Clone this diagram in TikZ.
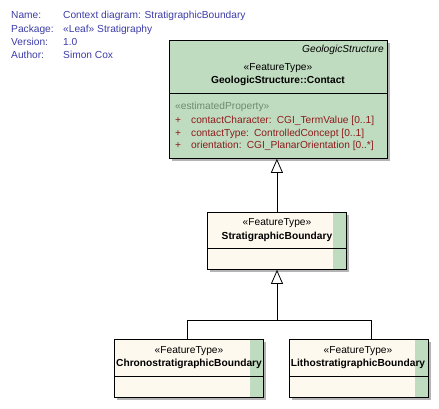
\documentclass[tikz,border=0pt]{standalone}
\usepackage{fontspec}
\setmainfont{Liberation Sans}
\usepackage{xcolor}
\usetikzlibrary{positioning,arrows.meta,shadows,calc}
\definecolor{umlgreen}{HTML}{C0DCC0}
\definecolor{umlcream}{HTML}{FEF9EE}
\definecolor{umlshadow}{HTML}{B4B4B4}
\definecolor{notenavy}{HTML}{3C3CA8}
\definecolor{attrred}{HTML}{8C1C1C}
\definecolor{stereogrey}{HTML}{6F8A6F}
\newcommand{\umlsize}{\fontsize{10.2}{12}\selectfont}

\begin{document}
\begin{tikzpicture}[x=1pt,y=-1pt,
  cls/.style={draw=black,line width=0.8pt,fill=#1,anchor=north west,inner sep=0pt,
              drop shadow={shadow xshift=3pt,shadow yshift=-3pt,fill=umlshadow,opacity=1}},
  stripcls/.style={cls=umlcream,
              path picture={\fill[umlgreen] ([xshift=-13pt]path picture bounding box.north east)
                            rectangle (path picture bounding box.south east);}},
  txt/.style={inner sep=0pt,anchor=mid,font=\umlsize},
  txtb/.style={txt,font=\umlsize\bfseries},
  note/.style={txt,anchor=mid west,text=notenavy},
  attr/.style={txt,anchor=mid west,text=attrred},
  sep/.style={black,line width=0.8pt},
  gen/.style={-{Triangle[open,length=14pt,width=12pt]},black,line width=0.8pt}]
\useasboundingbox (0,0) rectangle (439,408);

\node[note] (namek) at (11,16) {Name:};
\node[note] (namev) at (63,16) {Context diagram: StratigraphicBoundary};
\node[note] (pkgk) at (11,30) {Package:};
\node[note] (pkgv) at (63,30) {«Leaf» Stratigraphy};
\node[note] (verk) at (11,43) {Version:};
\node[note] (verv) at (63,43) {1.0};
\node[note] (autk) at (11,56) {Author:};
\node[note] (autv) at (63,56) {Simon Cox};

\node[cls=umlgreen,minimum width=218pt,minimum height=118pt] (contact) at (169,40) {};
\draw[sep] ($(contact.north west)+(0,53)$) -- ($(contact.north east)+(0,53)$);
\node[txt,anchor=mid east,font=\umlsize\itshape] (contactpkg) at (384,50) {GeologicStructure};
\node[txt] (contactst) at (278,68) {«FeatureType»};
\node[txtb] (contactname) at (278,81) {GeologicStructure::Contact};
\node[txt,anchor=mid west,text=stereogrey] (attrst) at (175,107) {«estimatedProperty»};
\node[attr] (plusa) at (175,121) {+};
\node[attr] (attra) at (191,121) {contactCharacter:\enspace CGI\_TermValue [0..1]};
\node[attr] (plusb) at (175,134) {+};
\node[attr] (attrb) at (191,134) {contactType:\enspace ControlledConcept [0..1]};
\node[attr] (plusc) at (175,146) {+};
\node[attr] (attrc) at (191,146) {orientation:\enspace CGI\_PlanarOrientation [0..*]};

\node[stripcls,minimum width=139pt,minimum height=57pt] (strat) at (207,212) {};
\draw[sep] ($(strat.north west)+(0,36)$) -- ($(strat.north east)+(0,36)$);
\node[txt] (stratst) at (277,223) {«FeatureType»};
\node[txtb] (stratname) at (277,237) {StratigraphicBoundary};

\node[stripcls,minimum width=149pt,minimum height=58pt] (chrono) at (114,339) {};
\draw[sep] ($(chrono.north west)+(0,37)$) -- ($(chrono.north east)+(0,37)$);
\node[txt] (chronost) at (189,351) {«FeatureType»};
\node[txtb] (chrononame) at (189,364) {ChronostratigraphicBoundary};

\node[stripcls,minimum width=139pt,minimum height=58pt] (litho) at (289,339) {};
\draw[sep] ($(litho.north west)+(0,37)$) -- ($(litho.north east)+(0,37)$);
\node[txt] (lithost) at (358,351) {«FeatureType»};
\node[txtb] (lithoname) at (358,364) {LithostratigraphicBoundary};

\coordinate (split) at (277,320);
\coordinate (chronotop) at (187,339);
\coordinate (lithotop) at (371,339);
\draw[gen] (strat.north) -- (strat.north |- contact.south);
\draw[gen] (chronotop) |- (split) -- (split |- strat.south);
\draw[sep] (lithotop) |- (split);
\end{tikzpicture}
\end{document}
